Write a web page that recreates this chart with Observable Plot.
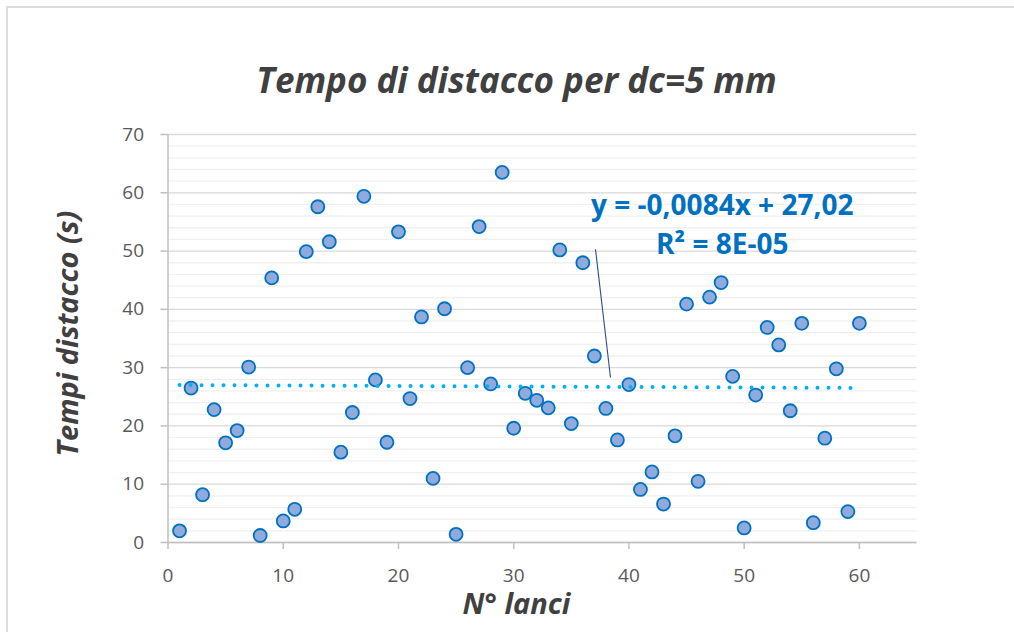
<!DOCTYPE html>
<html><head><meta charset="utf-8">
<script src="https://cdn.jsdelivr.net/npm/d3@7"></script>
<script src="https://cdn.jsdelivr.net/npm/@observablehq/plot@0.6"></script>
<style>
html,body{margin:0;padding:0;background:#fff;width:1014px;height:632px;overflow:hidden;}
#frame{position:absolute;left:6px;top:6px;width:1100px;height:700px;border-left:2px solid #dcdcdc;border-top:2px solid #dcdcdc;}
#title{position:absolute;top:57px;left:0;width:1033px;text-align:center;font-family:'Open Sans',sans-serif;font-style:italic;font-weight:700;font-size:35px;line-height:46px;color:#404040;}
#chart{position:absolute;left:0;top:110px;}
</style></head>
<body>
<div id="frame"></div>
<div id="title">Tempo di distacco per dc=5 mm</div>
<div id="chart"></div>
<script>
const titleText = "Tempo di distacco per dc=5 mm";
const xLabel = "N° lanci";
const yLabel = "Tempi distacco (s)";
const lanci = [1,2,3,4,5,6,7,8,9,10,11,12,13,14,15,16,17,18,19,20,21,22,23,24,25,26,27,28,29,30,31,32,33,34,35,36,37,38,39,40,41,42,43,44,45,46,47,48,49,50,51,52,53,54,55,56,57,58,59,60];
const tempi = [2.0,26.5,8.2,22.8,17.1,19.2,30.1,1.2,45.4,3.7,5.7,49.9,57.6,51.6,15.5,22.3,59.4,27.9,17.2,53.3,24.7,38.7,11.0,40.1,1.4,30.0,54.2,27.2,63.5,19.6,25.6,24.4,23.1,50.2,20.4,48.0,32.0,23.0,17.6,27.1,9.1,12.1,6.6,18.3,40.9,10.5,42.1,44.6,28.5,2.5,25.3,36.9,33.9,22.6,37.6,3.4,17.9,29.8,5.3,37.6];
const xTicks = [0,10,20,30,40,50,60];
const yTicks = [0,10,20,30,40,50,60,70];
const yMinor = [2,4,6,8,12,14,16,18,22,24,26,28,32,34,36,38,42,44,46,48,52,54,56,58,62,64,66,68];
const trendSlope = -0.0084, trendIntercept = 27.02;
const trendRange = [1, 60];
const eqLines = ["y = -0,0084x + 27,02", "R² = 8E-05"];

const points = lanci.map((x, i) => ({x, y: tempi[i]}));
const trend = trendRange.map(x => ({x, y: trendSlope * x + trendIntercept}));
const eqPos = [{x: 48.1, y: 57.8, t: eqLines[0]}, {x: 48.1, y: 51.1, t: eqLines[1]}];
const leader = [{x1: 37.1, y1: 50.3, x2: 38.4, y2: 28.3}];

const font = "'Open Sans', sans-serif";
const chart = Plot.plot({
  width: 1014, height: 522,
  marginTop: 24, marginBottom: 90, marginLeft: 167.5, marginRight: 97.5,
  x: {domain: [0, 65]},
  y: {domain: [0, 70]},
  style: {fontFamily: font, background: "transparent", overflow: "visible"},
  marks: [
    Plot.gridY(yMinor, {stroke: "#f0f0f0", strokeOpacity: 1, strokeWidth: 1.3}),
    Plot.gridY(yTicks, {stroke: "#d9d9d9", strokeOpacity: 1, strokeWidth: 1.3}),
    Plot.ruleX([0], {stroke: "#bfbfbf", strokeWidth: 1.5}),
    Plot.ruleY([0], {stroke: "#bfbfbf", strokeWidth: 1.5}),
    Plot.axisY(yTicks, {tickSize: 7, tickPadding: 17, fontSize: 19, fill: "#595959", stroke: "#bfbfbf", strokeWidth: 1.5, label: null}),
    Plot.axisX(xTicks, {tickSize: 7, tickPadding: 19, fontSize: 19, fill: "#595959", stroke: "#bfbfbf", strokeWidth: 1.5, label: null}),
    Plot.dot(points, {x: "x", y: "y", r: 6.5, fill: "#8FAADC", stroke: "#0070C0", strokeWidth: 1.8}),
    Plot.link(leader, {x1: "x1", y1: "y1", x2: "x2", y2: "y2", stroke: "#2F4A8A", strokeWidth: 1.1}),
    Plot.line(trend, {x: "x", y: "y", stroke: "#00B0F0", strokeWidth: 4, strokeDasharray: "0 11", strokeLinecap: "round"}),
    Plot.text(eqPos, {x: "x", y: "y", text: "t", fill: "#0070C0", fontSize: 28, fontWeight: 700, lineAnchor: "middle"}),
    Plot.text([yLabel], {frameAnchor: "left", dx: -99, dy: -5, rotate: -90, textAnchor: "middle", lineAnchor: "middle", fontSize: 29, fontWeight: 700, fontStyle: "italic", fill: "#404040"}),
    Plot.text([xLabel], {frameAnchor: "bottom", dx: -26, dy: 62, textAnchor: "middle", lineAnchor: "middle", fontSize: 29, fontWeight: 700, fontStyle: "italic", fill: "#404040"})
  ]
});
document.getElementById("chart").appendChild(chart);
</script>
</body></html>
